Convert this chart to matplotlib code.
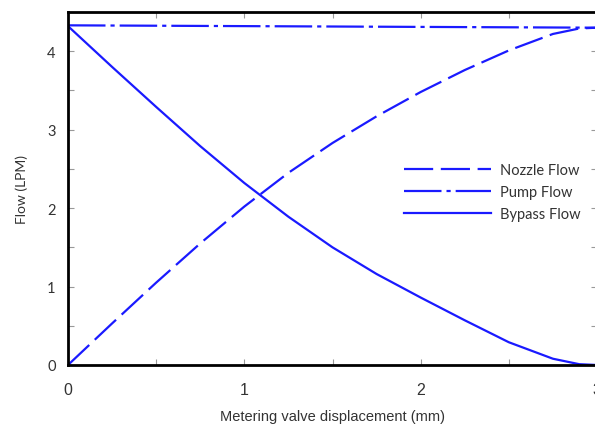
import numpy as np
import matplotlib
matplotlib.use("Agg")
from matplotlib import pyplot as plt

# values
x = [0, 0.25, 0.5, 0.75, 1.0, 1.25, 1.5, 1.75, 2.0, 2.25, 2.5, 2.75, 2.9, 3.0]
nozzle = [0, 0.53, 1.05, 1.55, 2.02, 2.45, 2.83, 3.17, 3.48, 3.76, 4.01, 4.22, 4.29, 4.30]
bypass = [4.32, 3.80, 3.29, 2.79, 2.32, 1.89, 1.50, 1.16, 0.86, 0.57, 0.29, 0.08, 0.01, 0.0]
pump_x = [0, 1, 2, 3]
pump = [4.33, 4.32, 4.31, 4.30]

xticks = [0, 1, 2, 3]
yticks = [0, 1, 2, 3, 4]

plt.rcParams['lines.scale_dashes'] = False

fig = plt.figure(figsize=(5.95, 4.27), dpi=100)
ax = fig.add_axes([68/595, 61/427, 529/595, 353/427])

blue = '#1a1aff'
ax.plot(x, nozzle, color=blue, lw=1.6, dashes=(21, 5.5), label='Nozzle Flow')
ax.plot(pump_x, pump, color=blue, lw=1.6, dashes=(27, 3.6, 3, 3.6), label='Pump Flow')
ax.plot(x, bypass, color=blue, lw=1.6, label='Bypass Flow')

ax.set_xlim(0, 3)
ax.set_ylim(0, 4.5)
ax.set_xticks(xticks)
ax.set_yticks(yticks)
ax.set_xticks(np.arange(0, 3.01, 0.5), minor=True)
ax.set_yticks(np.arange(0, 4.51, 0.5), minor=True)

for s in ax.spines.values():
    s.set_linewidth(2)
    s.set_color('black')

ax.tick_params(which='both', direction='in', top=True, right=True,
               color='#999999', width=0.8, length=4)
ax.tick_params(axis='x', labelsize=11.5, labelcolor='#333333', pad=12)
ax.tick_params(axis='y', labelsize=10.5, labelcolor='#333333', pad=9)
for t in ax.get_yticklabels():
    t.set_fontfamily('Lato')
for t in ax.get_xticklabels():
    t.set_fontfamily('Liberation Sans')

ax.set_xlabel('Metering valve displacement (mm)', fontsize=10.5,
              family='Liberation Sans', color='#333333', labelpad=9)
ax.set_ylabel('Flow (LPM)', fontsize=10, family='Lato', color='#333333', labelpad=14)

leg = ax.legend(loc='upper left', bbox_to_anchor=(0.61, 0.61), frameon=False,
                prop={'family': 'Lato', 'size': 10.5}, handlelength=6.0,
                handletextpad=0.6, labelspacing=0.55)
for t in leg.get_texts():
    t.set_color('#333333')

fig.savefig('out.png', dpi=100)
